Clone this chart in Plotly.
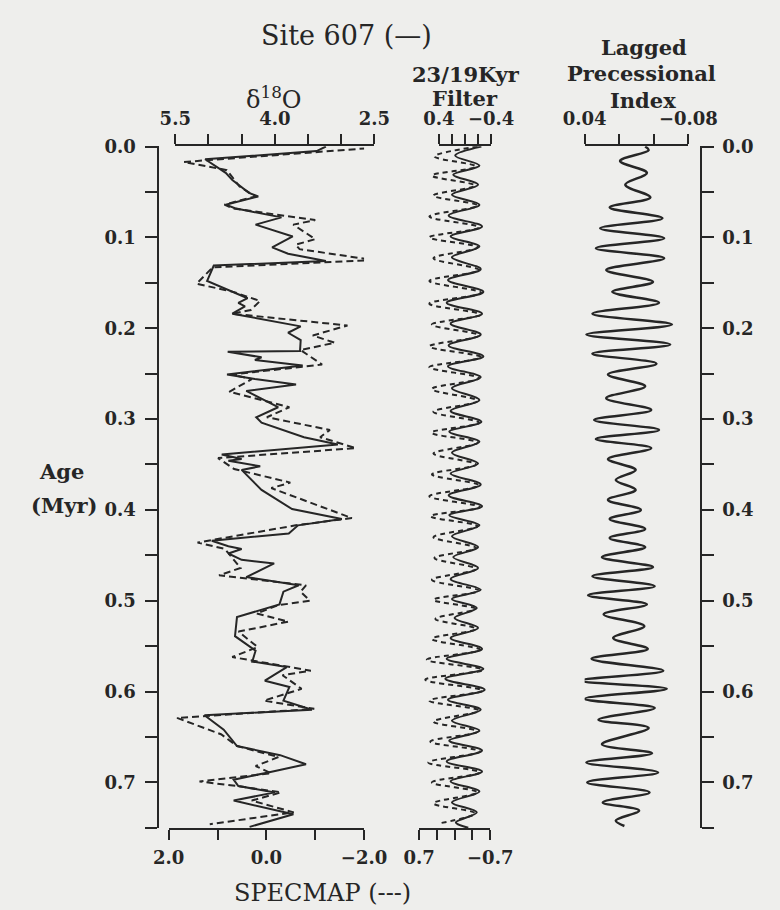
import plotly.graph_objects as go

# ---------------- data ----------------
# Site 607 benthic d18O (per mil) against age (Myr)
age_607 = [0.000, 0.005, 0.014, 0.020, 0.029, 0.037, 0.045, 0.051, 0.055, 0.064,
           0.068, 0.078, 0.086, 0.093, 0.099, 0.111, 0.118, 0.126, 0.131, 0.148,
           0.160, 0.167, 0.172, 0.176, 0.184, 0.198, 0.205, 0.213, 0.225, 0.226,
           0.232, 0.235, 0.241, 0.251, 0.256, 0.262, 0.269, 0.287, 0.298, 0.304,
           0.320, 0.328, 0.339, 0.344, 0.346, 0.352, 0.356, 0.370, 0.378, 0.399,
           0.410, 0.417, 0.426, 0.434, 0.440, 0.443, 0.448, 0.455, 0.459, 0.474,
           0.483, 0.490, 0.504, 0.518, 0.539, 0.555, 0.567, 0.573, 0.588, 0.595,
           0.610, 0.620, 0.626, 0.642, 0.660, 0.670, 0.680, 0.689, 0.697, 0.704,
           0.711, 0.720, 0.735, 0.749]
d18o_607 = [3.23, 3.37, 5.05, 4.92, 4.74, 4.64, 4.50, 4.39, 4.25, 4.74,
            4.60, 3.90, 4.29, 4.00, 3.73, 4.04, 3.80, 3.23, 4.92, 5.02,
            4.64, 4.41, 4.55, 4.45, 4.64, 3.61, 3.80, 3.61, 3.62, 4.71,
            4.20, 4.30, 3.58, 4.72, 4.30, 3.68, 4.43, 3.95, 4.28, 4.20,
            3.56, 3.05, 4.80, 4.50, 4.70, 4.22, 4.50, 4.30, 4.20, 3.74,
            2.99, 3.65, 3.79, 4.95, 4.70, 4.50, 4.70, 4.50, 4.01, 4.43,
            3.64, 3.87, 3.93, 4.57, 4.60, 4.29, 4.34, 3.82, 4.15, 3.78,
            3.87, 3.44, 5.06, 4.77, 4.57, 3.92, 3.53, 4.10, 4.62, 4.55,
            4.00, 4.62, 3.72, 4.38]

# SPECMAP stacked d18O record (normalised units)
age_spec = [0.002, 0.017, 0.026, 0.044, 0.055, 0.064, 0.068, 0.081, 0.086, 0.102,
            0.108, 0.113, 0.125, 0.133, 0.151, 0.160, 0.170, 0.180, 0.184, 0.197,
            0.208, 0.216, 0.224, 0.240, 0.251, 0.256, 0.270, 0.287, 0.298, 0.312,
            0.320, 0.332, 0.343, 0.355, 0.370, 0.376, 0.381, 0.409, 0.417, 0.436,
            0.443, 0.464, 0.472, 0.483, 0.490, 0.500, 0.505, 0.514, 0.523, 0.534,
            0.551, 0.562, 0.577, 0.582, 0.597, 0.610, 0.619, 0.629, 0.647, 0.660,
            0.672, 0.682, 0.690, 0.699, 0.704, 0.711, 0.720, 0.733, 0.746]
specmap = [-2.05, 1.69, 0.81, 0.55, 0.23, 0.86, 0.70, -1.00, -0.55, -1.00,
           -0.60, -0.68, -2.20, 1.10, 1.43, 0.68, 0.13, 0.32, 0.70, -1.66,
           -0.95, -1.40, -0.70, -1.14, 0.70, 0.30, 0.76, -0.47, -0.01, -1.30,
           -1.10, -1.83, 0.99, 0.66, -0.49, -0.10, -0.35, -1.75, -0.60, 1.41,
           0.85, 0.53, 0.97, -0.81, -0.70, -0.89, -0.24, 0.20, -0.45, 0.57,
           0.18, 0.70, -0.91, -0.33, -0.72, 0.05, -0.98, 1.83, 0.93, 0.60,
           -0.25, 0.22, -0.10, 1.37, 0.60, -0.30, 0.30, -0.56, 1.16]

# 23/19 kyr band-pass filtered records (turning points)
age_f607 = [0.000, 0.010, 0.021, 0.031, 0.042, 0.053, 0.064, 0.076, 0.088, 0.099,
            0.110, 0.122, 0.135, 0.147, 0.160, 0.172, 0.184, 0.195, 0.207, 0.219,
            0.231, 0.242, 0.254, 0.266, 0.279, 0.291, 0.303, 0.314, 0.325, 0.337,
            0.349, 0.360, 0.372, 0.384, 0.396, 0.406, 0.417, 0.429, 0.441, 0.452,
            0.464, 0.476, 0.488, 0.498, 0.508, 0.519, 0.530, 0.541, 0.553, 0.564,
            0.575, 0.586, 0.598, 0.609, 0.620, 0.632, 0.643, 0.654, 0.665, 0.677,
            0.688, 0.699, 0.710, 0.722, 0.733, 0.744, 0.750]
filt_607 = [-0.25, 0.15, -0.22, 0.18, -0.20, 0.20, -0.22, 0.25, -0.26, 0.22,
            -0.22, 0.20, -0.24, 0.26, -0.28, 0.28, -0.26, 0.22, -0.24, 0.25,
            -0.28, 0.26, -0.24, 0.20, -0.22, 0.22, -0.25, 0.24, -0.22, 0.20,
            -0.20, 0.22, -0.24, 0.25, -0.26, 0.24, -0.22, 0.20, -0.20, 0.18,
            -0.20, 0.22, -0.24, 0.20, -0.18, 0.16, -0.20, 0.22, -0.26, 0.28,
            -0.28, 0.30, -0.30, 0.26, -0.24, 0.20, -0.22, 0.24, -0.26, 0.28,
            -0.26, 0.22, -0.22, 0.20, -0.18, 0.14, -0.05]
age_fspec = [0.000, 0.011, 0.022, 0.032, 0.043, 0.054, 0.065, 0.077, 0.089, 0.100,
             0.111, 0.123, 0.136, 0.148, 0.161, 0.173, 0.185, 0.196, 0.208, 0.220,
             0.232, 0.243, 0.255, 0.267, 0.280, 0.292, 0.304, 0.315, 0.326, 0.338,
             0.350, 0.361, 0.373, 0.385, 0.397, 0.407, 0.418, 0.430, 0.442, 0.453,
             0.465, 0.477, 0.489, 0.499, 0.509, 0.520, 0.531, 0.542, 0.554, 0.565,
             0.576, 0.587, 0.599, 0.610, 0.621, 0.633, 0.644, 0.655, 0.666, 0.678,
             0.689, 0.700, 0.711, 0.723, 0.734, 0.745]
filt_spec = [-0.45, 0.40, -0.42, 0.45, -0.40, 0.42, -0.45, 0.50, -0.48, 0.50,
             -0.45, 0.42, -0.48, 0.50, -0.52, 0.50, -0.50, 0.45, -0.48, 0.50,
             -0.52, 0.50, -0.48, 0.45, -0.45, 0.42, -0.48, 0.46, -0.45, 0.42,
             -0.42, 0.45, -0.48, 0.50, -0.50, 0.48, -0.45, 0.42, -0.42, 0.40,
             -0.42, 0.45, -0.48, 0.42, -0.40, 0.38, -0.42, 0.45, -0.50, 0.55,
             -0.55, 0.58, -0.55, 0.50, -0.48, 0.42, -0.45, 0.48, -0.50, 0.52,
             -0.50, 0.45, -0.45, 0.42, -0.40, 0.30]

# Lagged precessional index (turning points)
age_prec = [0.000, 0.004, 0.016, 0.029, 0.042, 0.056, 0.067, 0.079, 0.090, 0.101,
            0.112, 0.123, 0.136, 0.149, 0.160, 0.172, 0.184, 0.196, 0.207, 0.218,
            0.228, 0.239, 0.251, 0.264, 0.277, 0.290, 0.301, 0.312, 0.322, 0.332,
            0.344, 0.356, 0.367, 0.378, 0.389, 0.400, 0.410, 0.421, 0.431, 0.441,
            0.452, 0.463, 0.473, 0.484, 0.494, 0.504, 0.515, 0.528, 0.541, 0.553,
            0.564, 0.577, 0.588, 0.597, 0.608, 0.618, 0.631, 0.640, 0.658, 0.668,
            0.678, 0.689, 0.700, 0.711, 0.722, 0.731, 0.742, 0.748]
prec = [-0.030, -0.034, -0.001, -0.032, -0.007, -0.036, 0.011, -0.050, 0.022, -0.052,
        0.027, -0.052, 0.015, -0.039, 0.008, -0.046, 0.031, -0.061, 0.038, -0.059,
        0.031, -0.043, 0.013, -0.030, 0.015, -0.037, 0.029, -0.046, 0.027, -0.037,
        0.013, -0.019, 0.004, -0.019, 0.013, -0.025, 0.011, -0.030, 0.011, -0.030,
        0.020, -0.039, 0.031, -0.041, 0.036, -0.032, 0.018, -0.029, 0.007, -0.033,
        0.032, -0.051, 0.044, -0.055, 0.040, -0.041, 0.024, -0.034, 0.020, -0.038,
        0.038, -0.045, 0.037, -0.035, 0.019, -0.023, 0.004, -0.006]

age_ticks = [0.0, 0.1, 0.2, 0.3, 0.4, 0.5, 0.6, 0.7]
age_labels = ["0.0", "0.1", "0.2", "0.3", "0.4", "0.5", "0.6", "0.7"]
age_minor = [0.05, 0.15, 0.25, 0.35, 0.45, 0.55, 0.65, 0.75]

# ---------------- styling ----------------
W, H = 780, 910
INK = "#262626"
BG = "#eeeeec"
SERIF = "DejaVu Serif"


def fx(px):
    return px / W


def fy(py):
    return 1 - py / H


tick_font = dict(family=SERIF, size=18, color=INK, weight="bold")
y_dom = [fy(827), fy(137)]

fig = go.Figure()

fig.add_trace(go.Scatter(x=d18o_607, y=age_607, xaxis="x", yaxis="y", mode="lines",
                         line=dict(color=INK, width=2), showlegend=False))
fig.add_trace(go.Scatter(x=specmap, y=age_spec, xaxis="x2", yaxis="y", mode="lines",
                         line=dict(color=INK, width=2, dash="7px,4px"), showlegend=False))
fig.add_trace(go.Scatter(x=filt_607, y=age_f607, xaxis="x3", yaxis="y", mode="lines",
                         line=dict(color=INK, width=2, shape="spline", smoothing=1.0),
                         showlegend=False))
fig.add_trace(go.Scatter(x=filt_spec, y=age_fspec, xaxis="x4", yaxis="y", mode="lines",
                         line=dict(color=INK, width=2, dash="5px,4px", shape="spline",
                                   smoothing=1.0), showlegend=False))
fig.add_trace(go.Scatter(x=prec, y=age_prec, xaxis="x5", yaxis="y2", mode="lines",
                         line=dict(color=INK, width=2.5, shape="spline", smoothing=1.0),
                         showlegend=False))


def xax(domain, rng, side, vals, texts, minor_vals, anchor="y"):
    return dict(domain=domain, range=rng, side=side, anchor=anchor,
                tickmode="array", tickvals=vals, ticktext=texts,
                ticks="outside", ticklen=10, tickwidth=2, tickcolor=INK,
                minor=dict(tickmode="array", tickvals=minor_vals, ticks="outside",
                           ticklen=10, tickwidth=2, tickcolor=INK),
                showline=True, linewidth=2, linecolor=INK,
                showgrid=False, zeroline=False, tickfont=tick_font,
                ticklabelstandoff=2, fixedrange=True)


def yax(position, side, **extra):
    d = dict(domain=y_dom, range=[0.7502, -0.0002], anchor="free", position=position,
             side=side, tickmode="array", tickvals=age_ticks, ticktext=age_labels,
             ticks="outside", ticklen=12, tickwidth=2, tickcolor=INK,
             minor=dict(tickmode="array", tickvals=age_minor, ticks="outside",
                        ticklen=12, tickwidth=2, tickcolor=INK),
             showline=True, linewidth=2, linecolor=INK,
             showgrid=False, zeroline=False, tickfont=tick_font,
             ticklabelstandoff=5, fixedrange=True)
    d.update(extra)
    return d


fig.update_layout(
    width=W, height=H, autosize=False,
    margin=dict(l=0, r=0, t=0, b=0),
    paper_bgcolor=BG, plot_bgcolor="rgba(0,0,0,0)",
    xaxis=xax([fx(164), fx(377)], [5.5, 2.5], "top",
              [5.5, 4.0, 2.5], ["5.5", "4.0", "2.5"], [5.0, 4.5, 3.5, 3.0]),
    xaxis2=xax([fx(157), fx(366)], [2.0, -2.0], "bottom",
               [2.0, 0.0, -2.0], ["2.0", "0.0", "\u22122.0"], [1.0, -1.0]),
    xaxis3=xax([fx(446), fx(502)], [0.4, -0.4], "top",
               [0.4, -0.4], ["0.4", "\u22120.4"], [0.2, 0.0, -0.2]),
    xaxis4=xax([fx(425), fx(501)], [0.7, -0.7], "bottom",
               [0.7, -0.7], ["0.7", "\u22120.7"], [0.35, 0.0, -0.35]),
    xaxis5=xax([fx(602), fx(713)], [0.04, -0.08], "top",
               [0.04, -0.08], ["0.04", "\u22120.08"], [0.0, -0.04], anchor="y2"),
    yaxis=yax(fx(145), "left"),
    yaxis2=yax(fx(726), "right", overlaying="y"),
)

title_font = dict(family=SERIF, size=24, color=INK)
bold_font = dict(family=SERIF, size=21, color=INK, weight="bold")


def label(text, xp, yp, font):
    fig.add_annotation(text=text, x=fx(xp), y=fy(yp), xref="paper", yref="paper",
                       showarrow=False, xanchor="center", yanchor="middle", font=font)


label("Site 607 (\u2014)", 347, 25, dict(family=SERIF, size=27, color=INK))
label("\u03b4<sup>18</sup>O", 270, 88, title_font)
label("23/19Kyr", 475, 64, bold_font)
label("Filter", 474, 89, bold_font)
label("Lagged", 665, 37, bold_font)
label("Precessional", 663, 63, bold_font)
label("Index", 664, 91, bold_font)
label("Age", 42, 466, dict(family=SERIF, size=21, color=INK, weight="bold"))
label("(Myr)", 45, 501, dict(family=SERIF, size=21, color=INK, weight="bold"))
label("SPECMAP (---)", 322, 893, title_font)

fig.write_html("out.html")
